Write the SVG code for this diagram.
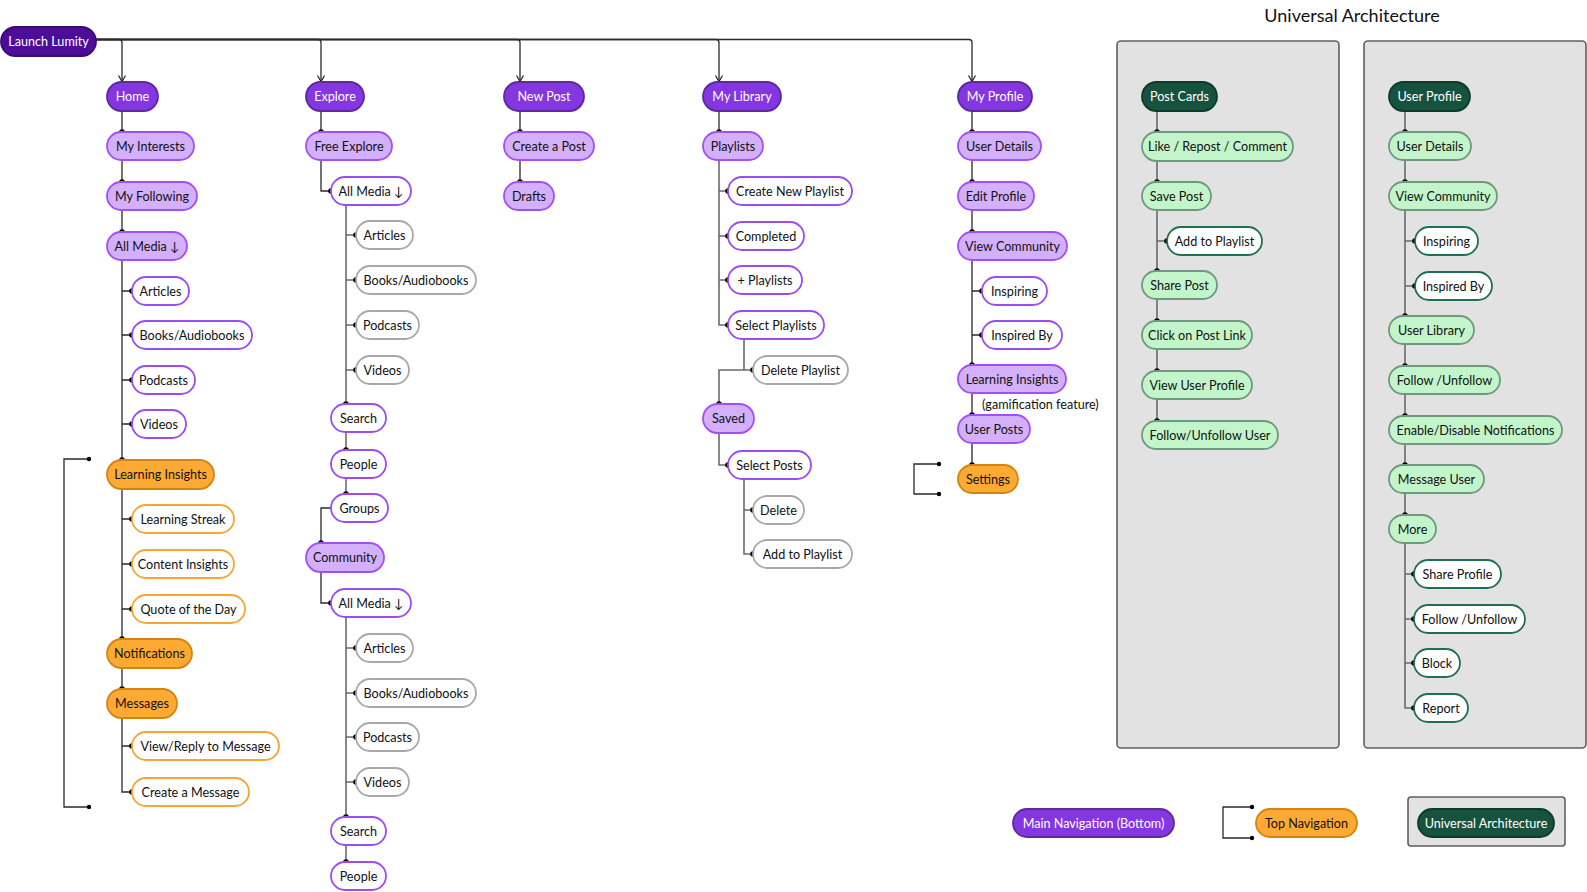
<svg xmlns="http://www.w3.org/2000/svg" width="1587" height="892" viewBox="0 0 1587 892">
<defs>
<marker id="arr" markerUnits="userSpaceOnUse" markerWidth="10" markerHeight="10" viewBox="0 0 10 10" refX="9" refY="5" orient="auto">
<path d="M3,1.5 L9,5 L3,8.5" fill="none" stroke="#222" stroke-width="1.2"/>
</marker>
<style>
text{font-family:Lato,"Open Sans","Liberation Sans",sans-serif;font-size:12.6px;text-anchor:middle;fill:#111}
.tw{fill:#fff}
rect{stroke-width:1.8}
.launch{fill:#4e0d99;stroke:#3a0a75}
.main{fill:#8436e0;stroke:#5c2a9d}
.lav{fill:#d4b0fb;stroke:#a24ff5}
.wp{fill:#fff;stroke:#9b4cf3}
.gr{fill:#fff;stroke:#a8a8a8}
.or{fill:#fdaa35;stroke:#d4840f}
.oro{fill:#fff;stroke:#f7a535}
.dg{fill:#17523f;stroke:#0c3a2b}
.lg{fill:#c3f5cb;stroke:#70987f}
.wg{fill:#fff;stroke:#216e56}
.panel{fill:#e2e2e2;stroke:#5f5f5f;stroke-width:1.6}
.c{fill:none;stroke:#2a2a2a;stroke-width:1.3}
.cg{fill:none;stroke:#6b6b6b;stroke-width:1.6}
.d{fill:#000}
.title{font-size:18px}
.note{text-anchor:start}
</style>
</defs>
<rect width="1587" height="892" fill="#fff" style="stroke:none"/>

<!-- panels -->
<g id="panel-post-cards"><rect class="panel" x="1117" y="41" width="222" height="707" rx="4"/></g>
<g id="panel-user-profile"><rect class="panel" x="1364" y="41" width="222" height="707" rx="4"/></g>
<text class="title" x="1352" y="22">Universal Architecture</text>

<!-- connectors -->
<g id="connectors">
<g class="c" marker-end="url(#arr)">
<path d="M96,39.5 H119 Q122,39.5 122,42.5 V81.5"/>
<path d="M96,39.5 H318 Q321,39.5 321,42.5 V81.5"/>
<path d="M96,39.5 H517 Q520,39.5 520,42.5 V81.5"/>
<path d="M96,39.5 H716 Q719,39.5 719,42.5 V81.5"/>
<path d="M96,39.5 H969 Q972,39.5 972,42.5 V81.5"/>
</g>
<!-- Home -->
<path class="c" d="M122,111 V132 M122,160 V182 M122,210 V232 M122,260 V460 M122,291 H132 M122,335 H132 M122,380 H132 M122,424 H132 M122,489 V639 M122,519 H132 M122,564 H132 M122,609 H132 M122,668 V689 M122,718 V792 H132 M122,746 H132"/>
<path class="c" d="M89,459 H64 V807 H89"/>
<!-- Explore -->
<path class="c" d="M321,111 V132 M321,160 V191 H331 M331,508 H321 V543 M321,572 V603 H331"/>
<path class="cg" d="M346,205 V404 M346,235 H356 M346,280 H356 M346,325 H356 M346,370 H356 M346,432 V450 M346,478 V494 M346,617 V817 M346,648 H356 M346,693 H356 M346,737 H356 M346,782 H356 M346,845 V862"/>
<!-- New Post -->
<path class="c" d="M520,111 V132 M520,160 V182"/>
<!-- My Library -->
<path class="c" d="M719,111 V132"/>
<path class="cg" d="M719,160 V325 H728 M719,191 H728 M719,236 H728 M719,280 H728 M744,339 V370 H753 M744,370 H719 V404 M719,433 V465 H728 M744,479 V554 H753 M744,510 H753"/>
<!-- My Profile -->
<path class="c" d="M972,111 V132 M972,160 V182 M972,210 V232 M972,260 V365 M972,291 H982 M972,335 H982 M972,393 V415 M972,443 V465"/>
<path class="c" d="M939,464 H914 V494 H939"/>
<!-- Panel 1 -->
<path class="cg" d="M1157,111 V132 M1157,161 V182 M1157,210 V271 M1157,241 H1167 M1157,299 V321 M1157,349 V371 M1157,399 V421"/>
<!-- Panel 2 -->
<path class="cg" d="M1405,111 V132 M1405,160 V182 M1405,210 V316 M1405,241 H1415 M1405,286 H1415 M1405,344 V366 M1405,394 V416 M1405,444 V465 M1405,493 V515 M1405,543 V708 H1414 M1405,574 H1414 M1405,619 H1414 M1405,663 H1414"/>
<!-- legend bracket -->
<path class="c" d="M1252,807 H1223 V838 H1252"/>
<g class="d">
<circle cx="122" cy="132" r="2.8"/><circle cx="122" cy="182" r="2.8"/><circle cx="122" cy="232" r="2.8"/><circle cx="122" cy="460" r="2.8"/>
<circle cx="132" cy="291" r="2.8"/><circle cx="132" cy="335" r="2.8"/><circle cx="132" cy="380" r="2.8"/><circle cx="132" cy="424" r="2.8"/>
<circle cx="132" cy="519" r="2.8"/><circle cx="132" cy="564" r="2.8"/><circle cx="132" cy="609" r="2.8"/><circle cx="122" cy="639" r="2.8"/>
<circle cx="122" cy="689" r="2.8"/><circle cx="132" cy="746" r="2.8"/><circle cx="132" cy="792" r="2.8"/>
<circle cx="89" cy="459" r="2.2"/><circle cx="89" cy="807" r="2.2"/>
<circle cx="321" cy="132" r="2.8"/><circle cx="331" cy="191" r="2.8"/>
<circle cx="356" cy="235" r="2.8"/><circle cx="356" cy="280" r="2.8"/><circle cx="356" cy="325" r="2.8"/><circle cx="356" cy="370" r="2.8"/>
<circle cx="346" cy="404" r="2.8"/><circle cx="346" cy="450" r="2.8"/><circle cx="346" cy="494" r="2.8"/><circle cx="321" cy="543" r="2.8"/>
<circle cx="331" cy="603" r="2.8"/>
<circle cx="356" cy="648" r="2.8"/><circle cx="356" cy="693" r="2.8"/><circle cx="356" cy="737" r="2.8"/><circle cx="356" cy="782" r="2.8"/>
<circle cx="346" cy="817" r="2.8"/><circle cx="346" cy="862" r="2.8"/>
<circle cx="520" cy="132" r="2.8"/><circle cx="520" cy="182" r="2.8"/>
<circle cx="719" cy="132" r="2.8"/><circle cx="728" cy="191" r="2.8"/><circle cx="728" cy="236" r="2.8"/><circle cx="728" cy="280" r="2.8"/><circle cx="728" cy="325" r="2.8"/>
<circle cx="753" cy="370" r="2.8"/><circle cx="719" cy="404" r="2.8"/><circle cx="728" cy="465" r="2.8"/><circle cx="753" cy="510" r="2.8"/><circle cx="753" cy="554" r="2.8"/>
<circle cx="972" cy="132" r="2.8"/><circle cx="972" cy="182" r="2.8"/><circle cx="972" cy="232" r="2.8"/><circle cx="982" cy="291" r="2.8"/><circle cx="982" cy="335" r="2.8"/>
<circle cx="972" cy="365" r="2.8"/><circle cx="972" cy="415" r="2.8"/><circle cx="972" cy="465" r="2.8"/>
<circle cx="939" cy="464" r="2.2"/><circle cx="939" cy="494" r="2.2"/>
<circle cx="1157" cy="132" r="2.8"/><circle cx="1157" cy="182" r="2.8"/><circle cx="1167" cy="241" r="2.8"/><circle cx="1157" cy="271" r="2.8"/><circle cx="1157" cy="321" r="2.8"/><circle cx="1157" cy="371" r="2.8"/><circle cx="1157" cy="421" r="2.8"/>
<circle cx="1405" cy="132" r="2.8"/><circle cx="1405" cy="182" r="2.8"/><circle cx="1415" cy="241" r="2.8"/><circle cx="1415" cy="286" r="2.8"/><circle cx="1405" cy="316" r="2.8"/><circle cx="1405" cy="366" r="2.8"/><circle cx="1405" cy="416" r="2.8"/><circle cx="1405" cy="465" r="2.8"/><circle cx="1405" cy="515" r="2.8"/>
<circle cx="1414" cy="574" r="2.8"/><circle cx="1414" cy="619" r="2.8"/><circle cx="1414" cy="663" r="2.8"/><circle cx="1414" cy="708" r="2.8"/>
<circle cx="1252" cy="807" r="2.2"/><circle cx="1252" cy="838" r="2.2"/>
</g>
</g>

<!-- nodes -->
<g id="launch"><rect class="launch" x="1" y="27" width="95" height="29" rx="14.5"/><text class="tw" x="48.5" y="46.3">Launch Lumity</text></g>

<g id="home"><rect class="main" x="107" y="82" width="51" height="29" rx="14.5"/><text class="tw" x="132.5" y="101.3">Home</text></g>
<g id="my-interests"><rect class="lav" x="107" y="132" width="87" height="28" rx="14"/><text x="150.5" y="150.8">My Interests</text></g>
<g id="my-following"><rect class="lav" x="107" y="182" width="90" height="28" rx="14"/><text x="152" y="200.8">My Following</text></g>
<g id="home-all-media"><rect class="lav" x="107" y="232" width="80" height="28" rx="14"/><text x="147" y="250.8">All Media ↓</text></g>
<g id="home-articles"><rect class="wp" x="132" y="277" width="57" height="28" rx="14"/><text x="160.5" y="295.8">Articles</text></g>
<g id="home-books"><rect class="wp" x="132" y="321" width="120" height="28" rx="14"/><text x="192" y="339.8">Books/Audiobooks</text></g>
<g id="home-podcasts"><rect class="wp" x="132" y="366" width="63" height="28" rx="14"/><text x="163.5" y="384.8">Podcasts</text></g>
<g id="home-videos"><rect class="wp" x="132" y="410" width="54" height="28" rx="14"/><text x="159" y="428.8">Videos</text></g>
<g id="learning-insights"><rect class="or" x="107" y="460" width="107" height="29" rx="14.5"/><text x="160.5" y="479.3">Learning Insights</text></g>
<g id="learning-streak"><rect class="oro" x="132" y="505" width="102" height="28" rx="14"/><text x="183" y="523.8">Learning Streak</text></g>
<g id="content-insights"><rect class="oro" x="132" y="550" width="102" height="28" rx="14"/><text x="183" y="568.8">Content Insights</text></g>
<g id="quote-of-the-day"><rect class="oro" x="132" y="595" width="113" height="28" rx="14"/><text x="188.5" y="613.8">Quote of the Day</text></g>
<g id="notifications"><rect class="or" x="107" y="639" width="85" height="29" rx="14.5"/><text x="149.5" y="658.3">Notifications</text></g>
<g id="messages"><rect class="or" x="107" y="689" width="70" height="29" rx="14.5"/><text x="142" y="708.3">Messages</text></g>
<g id="view-reply"><rect class="oro" x="132" y="732" width="147" height="28" rx="14"/><text x="205.5" y="750.8">View/Reply to Message</text></g>
<g id="create-message"><rect class="oro" x="132" y="778" width="117" height="28" rx="14"/><text x="190.5" y="796.8">Create a Message</text></g>

<g id="explore"><rect class="main" x="306" y="82" width="58" height="29" rx="14.5"/><text class="tw" x="335" y="101.3">Explore</text></g>
<g id="free-explore"><rect class="lav" x="306" y="132" width="86" height="28" rx="14"/><text x="349" y="150.8">Free Explore</text></g>
<g id="fe-all-media"><rect class="wp" x="331" y="177" width="80" height="28" rx="14"/><text x="371" y="195.8">All Media ↓</text></g>
<g id="fe-articles"><rect class="gr" x="356" y="221" width="57" height="28" rx="14"/><text x="384.5" y="239.8">Articles</text></g>
<g id="fe-books"><rect class="gr" x="356" y="266" width="120" height="28" rx="14"/><text x="416" y="284.8">Books/Audiobooks</text></g>
<g id="fe-podcasts"><rect class="gr" x="356" y="311" width="63" height="28" rx="14"/><text x="387.5" y="329.8">Podcasts</text></g>
<g id="fe-videos"><rect class="gr" x="356" y="356" width="53" height="28" rx="14"/><text x="382.5" y="374.8">Videos</text></g>
<g id="fe-search"><rect class="wp" x="331" y="404" width="55" height="28" rx="14"/><text x="358.5" y="422.8">Search</text></g>
<g id="fe-people"><rect class="wp" x="331" y="450" width="55" height="28" rx="14"/><text x="358.5" y="468.8">People</text></g>
<g id="fe-groups"><rect class="wp" x="331" y="494" width="57" height="28" rx="14"/><text x="359.5" y="512.8">Groups</text></g>
<g id="community"><rect class="lav" x="306" y="543" width="78" height="29" rx="14.5"/><text x="345" y="562.3">Community</text></g>
<g id="co-all-media"><rect class="wp" x="331" y="589" width="80" height="28" rx="14"/><text x="371" y="607.8">All Media ↓</text></g>
<g id="co-articles"><rect class="gr" x="356" y="634" width="57" height="28" rx="14"/><text x="384.5" y="652.8">Articles</text></g>
<g id="co-books"><rect class="gr" x="356" y="679" width="120" height="28" rx="14"/><text x="416" y="697.8">Books/Audiobooks</text></g>
<g id="co-podcasts"><rect class="gr" x="356" y="723" width="63" height="28" rx="14"/><text x="387.5" y="741.8">Podcasts</text></g>
<g id="co-videos"><rect class="gr" x="356" y="768" width="53" height="28" rx="14"/><text x="382.5" y="786.8">Videos</text></g>
<g id="co-search"><rect class="wp" x="331" y="817" width="55" height="28" rx="14"/><text x="358.5" y="835.8">Search</text></g>
<g id="co-people"><rect class="wp" x="331" y="862" width="55" height="28" rx="14"/><text x="358.5" y="880.8">People</text></g>

<g id="new-post"><rect class="main" x="504" y="82" width="80" height="29" rx="14.5"/><text class="tw" x="544" y="101.3">New Post</text></g>
<g id="create-post"><rect class="lav" x="504" y="132" width="90" height="28" rx="14"/><text x="549" y="150.8">Create a Post</text></g>
<g id="drafts"><rect class="lav" x="504" y="182" width="50" height="28" rx="14"/><text x="529" y="200.8">Drafts</text></g>

<g id="my-library"><rect class="main" x="703" y="82" width="78" height="29" rx="14.5"/><text class="tw" x="742" y="101.3">My Library</text></g>
<g id="playlists"><rect class="lav" x="703" y="132" width="60" height="28" rx="14"/><text x="733" y="150.8">Playlists</text></g>
<g id="create-new-playlist"><rect class="wp" x="728" y="177" width="124" height="28" rx="14"/><text x="790" y="195.8">Create New Playlist</text></g>
<g id="completed"><rect class="wp" x="728" y="222" width="76" height="28" rx="14"/><text x="766" y="240.8">Completed</text></g>
<g id="plus-playlists"><rect class="wp" x="728" y="266" width="74" height="28" rx="14"/><text x="765" y="284.8">+ Playlists</text></g>
<g id="select-playlists"><rect class="wp" x="728" y="311" width="96" height="28" rx="14"/><text x="776" y="329.8">Select Playlists</text></g>
<g id="delete-playlist"><rect class="gr" x="753" y="356" width="95" height="28" rx="14"/><text x="800.5" y="374.8">Delete Playlist</text></g>
<g id="saved"><rect class="lav" x="703" y="404" width="51" height="29" rx="14.5"/><text x="728.5" y="423.3">Saved</text></g>
<g id="select-posts"><rect class="wp" x="728" y="451" width="83" height="28" rx="14"/><text x="769.5" y="469.8">Select Posts</text></g>
<g id="delete"><rect class="gr" x="753" y="496" width="51" height="28" rx="14"/><text x="778.5" y="514.8">Delete</text></g>
<g id="add-to-playlist"><rect class="gr" x="753" y="540" width="99" height="28" rx="14"/><text x="802.5" y="558.8">Add to Playlist</text></g>

<g id="my-profile"><rect class="main" x="958" y="82" width="74" height="29" rx="14.5"/><text class="tw" x="995" y="101.3">My Profile</text></g>
<g id="mp-user-details"><rect class="lav" x="958" y="132" width="83" height="28" rx="14"/><text x="999.5" y="150.8">User Details</text></g>
<g id="edit-profile"><rect class="lav" x="958" y="182" width="76" height="28" rx="14"/><text x="996" y="200.8">Edit Profile</text></g>
<g id="mp-view-community"><rect class="lav" x="958" y="232" width="109" height="28" rx="14"/><text x="1012.5" y="250.8">View Community</text></g>
<g id="mp-inspiring"><rect class="wp" x="982" y="277" width="65" height="28" rx="14"/><text x="1014.5" y="295.8">Inspiring</text></g>
<g id="mp-inspired-by"><rect class="wp" x="982" y="321" width="80" height="28" rx="14"/><text x="1022" y="339.8">Inspired By</text></g>
<g id="mp-learning-insights"><rect class="lav" x="958" y="365" width="108" height="28" rx="14"/><text x="1012" y="383.8">Learning Insights</text></g>
<text class="note" x="982" y="409">(gamification feature)</text>
<g id="user-posts"><rect class="lav" x="958" y="415" width="72" height="28" rx="14"/><text x="994" y="433.8">User Posts</text></g>
<g id="settings"><rect class="or" x="958" y="465" width="60" height="28" rx="14"/><text x="988" y="483.8">Settings</text></g>

<g id="post-cards"><rect class="dg" x="1142" y="82" width="75" height="29" rx="14.5"/><text class="tw" x="1179.5" y="101.3">Post Cards</text></g>
<g id="like-repost"><rect class="lg" x="1142" y="132" width="151" height="29" rx="14.5"/><text x="1217.5" y="151.3">Like / Repost / Comment</text></g>
<g id="save-post"><rect class="lg" x="1142" y="182" width="69" height="28" rx="14"/><text x="1176.5" y="200.8">Save Post</text></g>
<g id="pc-add-to-playlist"><rect class="wg" x="1167" y="227" width="95" height="28" rx="14"/><text x="1214.5" y="245.8">Add to Playlist</text></g>
<g id="share-post"><rect class="lg" x="1142" y="271" width="75" height="28" rx="14"/><text x="1179.5" y="289.8">Share Post</text></g>
<g id="click-post-link"><rect class="lg" x="1142" y="321" width="110" height="28" rx="14"/><text x="1197" y="339.8">Click on Post Link</text></g>
<g id="view-user-profile"><rect class="lg" x="1142" y="371" width="110" height="28" rx="14"/><text x="1197" y="389.8">View User Profile</text></g>
<g id="follow-unfollow-user"><rect class="lg" x="1142" y="421" width="136" height="28" rx="14"/><text x="1210" y="439.8">Follow/Unfollow User</text></g>

<g id="user-profile"><rect class="dg" x="1389" y="82" width="81" height="29" rx="14.5"/><text class="tw" x="1429.5" y="101.3">User Profile</text></g>
<g id="up-user-details"><rect class="lg" x="1389" y="132" width="82" height="28" rx="14"/><text x="1430" y="150.8">User Details</text></g>
<g id="up-view-community"><rect class="lg" x="1389" y="182" width="108" height="28" rx="14"/><text x="1443" y="200.8">View Community</text></g>
<g id="up-inspiring"><rect class="wg" x="1415" y="227" width="63" height="28" rx="14"/><text x="1446.5" y="245.8">Inspiring</text></g>
<g id="up-inspired-by"><rect class="wg" x="1415" y="272" width="77" height="28" rx="14"/><text x="1453.5" y="290.8">Inspired By</text></g>
<g id="user-library"><rect class="lg" x="1389" y="316" width="85" height="28" rx="14"/><text x="1431.5" y="334.8">User Library</text></g>
<g id="up-follow"><rect class="lg" x="1389" y="366" width="111" height="28" rx="14"/><text x="1444.5" y="384.8">Follow /Unfollow</text></g>
<g id="enable-disable"><rect class="lg" x="1389" y="416" width="173" height="28" rx="14"/><text x="1475.5" y="434.8">Enable/Disable Notifications</text></g>
<g id="message-user"><rect class="lg" x="1389" y="465" width="95" height="28" rx="14"/><text x="1436.5" y="483.8">Message User</text></g>
<g id="more"><rect class="lg" x="1389" y="515" width="47" height="28" rx="14"/><text x="1412.5" y="533.8">More</text></g>
<g id="share-profile"><rect class="wg" x="1414" y="560" width="87" height="28" rx="14"/><text x="1457.5" y="578.8">Share Profile</text></g>
<g id="more-follow"><rect class="wg" x="1414" y="605" width="111" height="28" rx="14"/><text x="1469.5" y="623.8">Follow /Unfollow</text></g>
<g id="block"><rect class="wg" x="1414" y="649" width="46" height="28" rx="14"/><text x="1437" y="667.8">Block</text></g>
<g id="report"><rect class="wg" x="1414" y="694" width="54" height="28" rx="14"/><text x="1441" y="712.8">Report</text></g>

<!-- legend -->
<g id="legend-main"><rect class="main" x="1013" y="809" width="161" height="28" rx="14"/><text class="tw" x="1093.5" y="827.8">Main Navigation (Bottom)</text></g>
<g id="legend-top"><rect class="or" x="1256" y="809" width="101" height="28" rx="14"/><text x="1306.5" y="827.8">Top Navigation</text></g>
<g id="legend-universal"><rect class="panel" x="1408" y="797" width="157" height="49" rx="3"/><rect class="dg" x="1418" y="809" width="136" height="28" rx="14"/><text class="tw" x="1486" y="827.8">Universal Architecture</text></g>
</svg>
